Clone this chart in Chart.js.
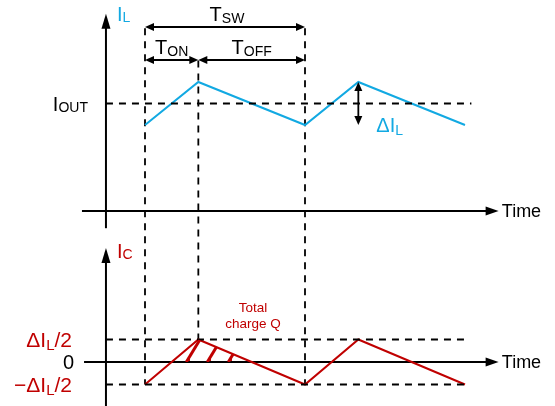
<!DOCTYPE html>
<html><head><meta charset="utf-8">
<script src="https://cdn.jsdelivr.net/npm/chart.js@4/dist/chart.umd.min.js"></script>
<style>html,body{margin:0;padding:0;background:#fff}#wrap{width:555px;height:406px}</style>
</head><body><div id="wrap"><canvas id="c" width="555" height="406"></canvas></div>
<script>
// ---- data (time in units of T_SW, currents normalised to I_OUT) ----
const timePoints       = [0, 1/3, 1, 4/3, 2];
const inductorCurrent  = [0.8, 1.2, 0.8, 1.2, 0.8];
const capacitorCurrent = [-0.2, 0.2, -0.2, 0.2, -0.2];
const outputCurrent    = 1.0;
const rippleHalf       = 0.2;
const tOn = 1/3, tSw = 1;
const axisTime = -0.244;          // where the vertical axes sit
const guideEndL = 2.04, guideEndC = 2.02;

const CYAN = '#12A9E2', RED = '#C00000', BLACK = '#000';
const FONT = '"Liberation Sans", Arial, Helvetica, sans-serif';

function pts(xs, ys){ return xs.map((x,i)=>({x, y: ys[i]})); }

function rich(ctx, parts, x, y, align, color){
  let w = 0;
  parts.forEach(p=>{ ctx.font = p.s + 'px ' + FONT; p.w = ctx.measureText(p.t).width; w += p.w; });
  let cx = align === 'right' ? x - w : align === 'center' ? x - w/2 : x;
  ctx.fillStyle = color; ctx.textAlign = 'left'; ctx.textBaseline = 'alphabetic';
  parts.forEach(p=>{ ctx.font = p.s + 'px ' + FONT; ctx.fillText(p.t, cx, y + (p.dy||0)); cx += p.w; });
}
function head(ctx, x, y, ang, len, half){
  ctx.save(); ctx.translate(x,y); ctx.rotate(ang);
  ctx.beginPath(); ctx.moveTo(0,0); ctx.lineTo(-len,-half); ctx.lineTo(-len,half); ctx.closePath(); ctx.fill();
  ctx.restore();
}
function line(ctx, x1,y1,x2,y2){ ctx.beginPath(); ctx.moveTo(x1,y1); ctx.lineTo(x2,y2); ctx.stroke(); }
function dimArrow(ctx, x1,y1,x2,y2){
  ctx.strokeStyle = BLACK; ctx.fillStyle = BLACK; ctx.lineWidth = 1.8; ctx.setLineDash([]);
  const a = Math.atan2(y2-y1, x2-x1);
  line(ctx, x1 + 6*Math.cos(a), y1 + 6*Math.sin(a), x2 - 6*Math.cos(a), y2 - 6*Math.sin(a));
  head(ctx, x2, y2, a, 9, 4); head(ctx, x1, y1, a+Math.PI, 9, 4);
}

const diagram = {
  id: 'diagram',
  beforeDatasetsDraw(chart){
    const {ctx, scales:{x, yL, yC}} = chart;
    ctx.save();
    // vertical dashed guides
    ctx.strokeStyle = BLACK; ctx.lineWidth = 1.8; ctx.setLineDash([7,6]);
    const topSw = yL.getPixelForValue(1.70), topOn = yL.getPixelForValue(1.40);
    line(ctx, x.getPixelForValue(0), topSw, x.getPixelForValue(0), yC.getPixelForValue(-rippleHalf));
    line(ctx, x.getPixelForValue(tOn), topOn, x.getPixelForValue(tOn), yC.getPixelForValue(rippleHalf));
    line(ctx, x.getPixelForValue(tSw), topSw, x.getPixelForValue(tSw), yC.getPixelForValue(-rippleHalf));
    ctx.setLineDash([]);
    // axes
    ctx.lineWidth = 2; ctx.fillStyle = BLACK;
    const ax = x.getPixelForValue(axisTime);
    const xEnd = x.getPixelForValue(2.21);
    // top panel
    const y0L = yL.getPixelForValue(0);
    line(ctx, ax, yL.getPixelForValue(1.80), ax, yL.getPixelForValue(-0.16));
    head(ctx, ax, yL.getPixelForValue(1.835), -Math.PI/2, 15, 4.5);
    line(ctx, x.getPixelForValue(-0.394), y0L, xEnd - 10, y0L);
    head(ctx, xEnd, y0L, 0, 13, 4.5);
    // bottom panel
    const y0C = yC.getPixelForValue(0);
    line(ctx, ax, yC.getPixelForValue(0.98), ax, 406);
    head(ctx, ax, yC.getPixelForValue(1.013), -Math.PI/2, 15, 4.5);
    line(ctx, x.getPixelForValue(-0.381), y0C, xEnd - 10, y0C);
    head(ctx, xEnd, y0C, 0, 13, 4.5);
    ctx.restore();
  },
  afterDatasetsDraw(chart){
    const {ctx, scales:{x, yL, yC}} = chart;
    ctx.save();
    // hatched charge area (first positive triangle of I_C)
    const tc1 = timePoints[0] + (timePoints[1]-timePoints[0]) * (0 - capacitorCurrent[0])/(capacitorCurrent[1]-capacitorCurrent[0]);
    const tc2 = timePoints[1] + (timePoints[2]-timePoints[1]) * (0 - capacitorCurrent[1])/(capacitorCurrent[2]-capacitorCurrent[1]);
    const y0C = yC.getPixelForValue(0);
    const px = x.getPixelForValue(timePoints[1]), py = yC.getPixelForValue(capacitorCurrent[1]);
    ctx.save();
    ctx.beginPath();
    ctx.moveTo(x.getPixelForValue(tc1), y0C); ctx.lineTo(px, py); ctx.lineTo(x.getPixelForValue(tc2), y0C); ctx.closePath();
    ctx.clip();
    ctx.strokeStyle = RED; ctx.lineWidth = 3;
    for (let k = 0; k < 3; k++){
      const bx = px - 12 + k*21;
      line(ctx, bx, y0C, bx + 14, y0C - 23);
    }
    ctx.restore();
    ctx.strokeStyle = RED; ctx.lineWidth = 1.2;
    for (let k = 0; k < 3; k++){
      const bx = px - 9 + k*21;
      line(ctx, bx, y0C - 1, bx, y0C - 5);
    }
    // dimension arrows
    const x0 = x.getPixelForValue(0), xOn = x.getPixelForValue(tOn), xSw = x.getPixelForValue(tSw);
    const ySw = yL.getPixelForValue(1.712), yOn = yL.getPixelForValue(1.405);
    dimArrow(ctx, x0, ySw, xSw, ySw);
    dimArrow(ctx, x0, yOn, xOn, yOn);
    dimArrow(ctx, xOn, yOn, xSw, yOn);
    const xr = x.getPixelForValue(timePoints[3]);
    dimArrow(ctx, xr, yL.getPixelForValue(inductorCurrent[3]), xr, yL.getPixelForValue(inductorCurrent[4]));
    // labels
    rich(ctx, [{t:'T',s:20},{t:'SW',s:14,dy:2}], (x0+xSw)/2 + 2, 21, 'center', BLACK);
    rich(ctx, [{t:'T',s:20},{t:'ON',s:14,dy:2}], (x0+xOn)/2, 54, 'center', BLACK);
    rich(ctx, [{t:'T',s:20},{t:'OFF',s:14,dy:2}], (xOn+xSw)/2, 54, 'center', BLACK);
    const ax = x.getPixelForValue(axisTime);
    rich(ctx, [{t:'I',s:20,},{t:'L',s:14,dy:1}], ax + 11, 21, 'left', CYAN);
    rich(ctx, [{t:'I',s:20},{t:'OUT',s:14,dy:1}], ax - 18, yL.getPixelForValue(outputCurrent) + 7, 'right', BLACK);
    rich(ctx, [{t:'\u0394I',s:20},{t:'L',s:14,dy:3}], xr + 18, yL.getPixelForValue(inductorCurrent[4]) + 7, 'left', CYAN);
    ctx.font = '18px ' + FONT; ctx.fillStyle = BLACK; ctx.textAlign = 'left'; ctx.textBaseline = 'middle';
    const xT = x.getPixelForValue(2.23);
    ctx.fillText('Time', xT, yL.getPixelForValue(0) + 1);
    ctx.fillText('Time', xT, y0C + 1);
    rich(ctx, [{t:'I',s:20},{t:'C',s:14,dy:1}], ax + 11, yC.getPixelForValue(1.0) + 8, 'left', RED);
    rich(ctx, [{t:'\u0394I',s:21},{t:'L',s:15,dy:3},{t:'/2',s:21}], 72, yC.getPixelForValue(rippleHalf) + 7, 'right', RED);
    rich(ctx, [{t:'0',s:20}], 74, y0C + 7, 'right', BLACK);
    rich(ctx, [{t:'\u2212\u0394I',s:21},{t:'L',s:15,dy:3},{t:'/2',s:21}], 72, yC.getPixelForValue(-rippleHalf) + 7, 'right', RED);
    ctx.font = '13.5px ' + FONT; ctx.fillStyle = RED; ctx.textAlign = 'center'; ctx.textBaseline = 'alphabetic';
    ctx.fillText('Total', 253, 312);
    ctx.fillText('charge Q', 253, 328);
    ctx.restore();
  }
};

const dashed = {borderColor: BLACK, borderWidth: 1.8, borderDash: [7,6], pointRadius: 0, fill: false, tension: 0};
new Chart(document.getElementById('c'), {
  type: 'line',
  data: { datasets: [
    Object.assign({label:'IOUT', yAxisID:'yL', data: pts([axisTime, guideEndL], [outputCurrent, outputCurrent])}, dashed),
    Object.assign({label:'+dIL/2', yAxisID:'yC', data: pts([axisTime, guideEndC], [rippleHalf, rippleHalf])}, dashed),
    Object.assign({label:'-dIL/2', yAxisID:'yC', data: pts([axisTime, guideEndC], [-rippleHalf, -rippleHalf])}, dashed),
    {label:'IL', yAxisID:'yL', data: pts(timePoints, inductorCurrent), borderColor: CYAN, borderWidth: 2, pointRadius: 0, tension: 0, fill:false},
    {label:'IC', yAxisID:'yC', data: pts(timePoints, capacitorCurrent), borderColor: RED, borderWidth: 2, pointRadius: 0, tension: 0, fill:false}
  ]},
  options: {
    responsive: false, animation: false, devicePixelRatio: 1,
    layout: {padding: 0},
    plugins: {legend:{display:false}, tooltip:{enabled:false}},
    scales: {
      x:  {type:'linear', min:-0.90625, max:2.5625, display:false},
      yL: {type:'linear', min:-1.814, max:1.963, display:false},
      yC: {type:'linear', min:-0.391, max:3.218, display:false}
    }
  },
  plugins: [diagram]
});
</script></body></html>
